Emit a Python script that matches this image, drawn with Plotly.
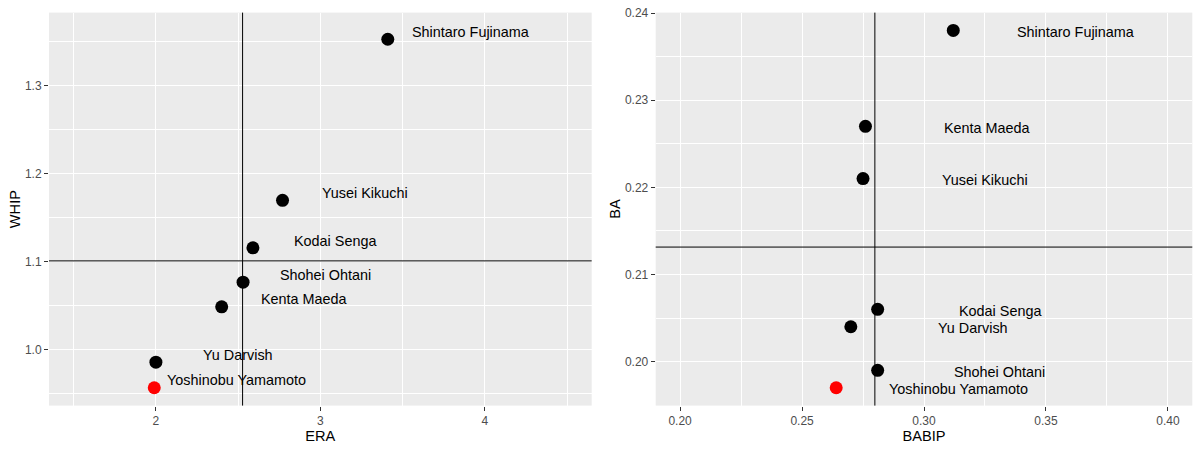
import numpy as np
import plotly.graph_objects as go
from plotly.subplots import make_subplots

# pitchers, same order in every list
players = ["Shintaro Fujinama", "Yusei Kikuchi", "Kodai Senga", "Shohei Ohtani",
           "Kenta Maeda", "Yu Darvish", "Yoshinobu Yamamoto"]
era = [3.41, 2.77, 2.59, 2.53, 2.40, 2.00, 1.99]
whip = [1.353, 1.170, 1.116, 1.077, 1.049, 0.986, 0.957]
babip = [0.312, 0.275, 0.281, 0.281, 0.276, 0.270, 0.264]
ba = [0.238, 0.221, 0.206, 0.199, 0.227, 0.204, 0.197]
highlight = "Yoshinobu Yamamoto"

era = np.array(era)
whip = np.array(whip)
babip = np.array(babip)
ba = np.array(ba)

# label offsets (data units), like nudge_x / nudge_y
nudge_left = (0.5, 0.01)
nudge_right = (0.05, 0.0)

colors = ["red" if p == highlight else "black" for p in players]

W, H = 1200, 450
font_fam = "Arial, Liberation Sans, sans-serif"


def expand(lo, hi, f=0.05):
    d = (hi - lo) * f
    return [lo - d, hi + d]


fig = make_subplots(rows=1, cols=2)

fig.add_trace(go.Scatter(x=era, y=whip, mode="markers",
                         marker=dict(size=13, color=colors),
                         hoverinfo="skip", showlegend=False), row=1, col=1)
fig.add_trace(go.Scatter(x=babip, y=ba, mode="markers",
                         marker=dict(size=13, color=colors),
                         hoverinfo="skip", showlegend=False), row=1, col=2)

# player labels
lab_font = dict(size=14.4, color="black", family=font_fam)
for i, p in enumerate(players):
    fig.add_annotation(x=era[i] + nudge_left[0], y=whip[i] + nudge_left[1], text=p,
                       showarrow=False, font=lab_font, yshift=-1.5, xref="x", yref="y")
    fig.add_annotation(x=babip[i] + nudge_right[0], y=ba[i] + nudge_right[1], text=p,
                       showarrow=False, font=lab_font, yshift=-1.5, xref="x2", yref="y2")

# mean lines
fig.add_vline(x=era.mean(), line=dict(color="black", width=1), row=1, col=1)
fig.add_hline(y=whip.mean(), line=dict(color="black", width=1), row=1, col=1)
fig.add_vline(x=babip.mean(), line=dict(color="black", width=1), row=1, col=2)
fig.add_hline(y=ba.mean(), line=dict(color="black", width=1), row=1, col=2)

ax_common = dict(showgrid=True, gridcolor="white", gridwidth=1.1, zeroline=False,
                 showline=False, ticks="outside", ticklen=4, tickwidth=1.1,
                 tickcolor="#333333",
                 tickfont=dict(size=12, color="#4D4D4D", family=font_fam))
title_font = dict(size=14.6, color="black", family=font_fam)

ydom = [1 - 405 / H, 1 - 6.7 / H]
fig.update_xaxes(ax_common)
fig.update_yaxes(ax_common)

fig.update_xaxes(row=1, col=1, domain=[49 / W, 591.7 / W], range=expand(1.5, 4.5),
                 dtick=1, tick0=0, tickformat="d",
                 minor=dict(dtick=0.5, tick0=0, showgrid=True, gridcolor="white", gridwidth=0.55),
                 title=dict(text="ERA", font=title_font, standoff=3))
fig.update_yaxes(row=1, col=1, domain=ydom,
                 range=expand(whip.min(), (whip + nudge_left[1]).max()),
                 dtick=0.1, tick0=0, tickformat=".1f",
                 minor=dict(dtick=0.05, tick0=0, showgrid=True, gridcolor="white", gridwidth=0.55),
                 title=dict(text="WHIP", font=title_font, standoff=0))
fig.update_xaxes(row=1, col=2, domain=[655.7 / W, 1192.3 / W], range=expand(0.2, 0.4),
                 dtick=0.05, tick0=0, tickformat=".2f",
                 minor=dict(dtick=0.025, tick0=0, showgrid=True, gridcolor="white", gridwidth=0.55),
                 title=dict(text="BABIP", font=title_font, standoff=3))
fig.update_yaxes(row=1, col=2, domain=ydom, range=expand(ba.min(), ba.max()),
                 dtick=0.01, tick0=0, tickformat=".2f",
                 minor=dict(dtick=0.005, tick0=0, showgrid=True, gridcolor="white", gridwidth=0.55),
                 title=dict(text="BA", font=title_font, standoff=0))

fig.update_layout(width=W, height=H, margin=dict(l=0, r=0, t=0, b=0),
                  paper_bgcolor="white", plot_bgcolor="#EBEBEB",
                  font=dict(family=font_fam))

# page body has a default 8px margin; drop it so the figure sits at the corner
fig.write_html("out.html", config={"displayModeBar": False},
               post_script="document.body.style.margin='0px';")
